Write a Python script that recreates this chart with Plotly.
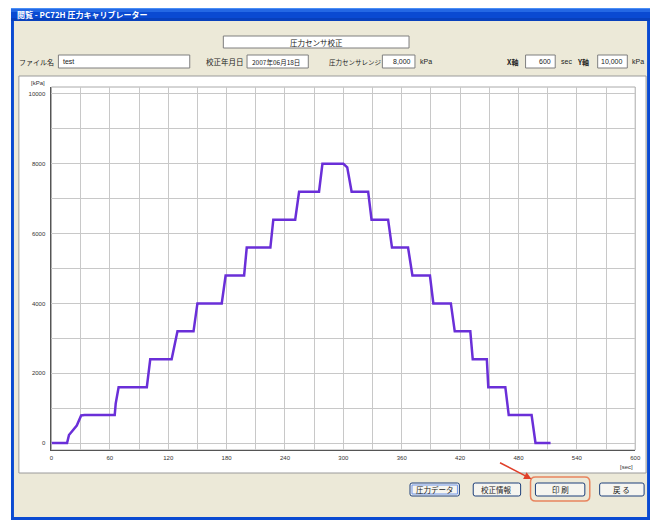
import plotly.graph_objects as go

# page has an 8px body margin, so the figure is 8px smaller and all layout
# pixel positions below are expressed in page coordinates and shifted by OFF
W, H = 650, 512
OFF = 8

# ---- data ----
time_sec = [0, 16, 18, 22, 26, 30.5, 34, 65, 66, 69, 98, 101.5, 123.5, 129.5, 146, 150,
            175, 179, 198, 200.7, 225, 228, 250.5, 254.5, 275, 278.5, 300, 304, 308.5,
            325.5, 329, 346, 350, 366.5, 371, 389, 392.5, 410.5, 414.5, 430.5, 433,
            447.5, 449, 466.5, 470, 493.5, 497.5, 513]
pressure_kpa = [0, 0, 230, 350, 500, 790, 800, 800, 1130, 1600, 1600, 2400, 2400, 3200, 3200, 4000,
                4000, 4800, 4800, 5600, 5600, 6400, 6400, 7200, 7200, 8000, 8000, 7900, 7200,
                7200, 6400, 6400, 5600, 5600, 4800, 4800, 4000, 4000, 3200, 3200, 2400,
                2400, 1600, 1600, 800, 800, 0, 0]
x_ticks = [0, 60, 120, 180, 240, 300, 360, 420, 480, 540, 600]
y_ticks = [0, 2000, 4000, 6000, 8000, 10000]
window_title = "閲覧 - PC72H 圧力キャリブレーター"
chart_title = "圧力センサ校正"
buttons = ["圧力データ", "校正情報", "印 刷", "戻 る"]

JP = "Noto Sans CJK JP"
LS = "Liberation Sans"


def fx(x):
    return (x - OFF) / W


def fy(y):
    return 1 - (y - OFF) / H


shapes = []
ann = []


def rect(x0, y0, x1, y1, fill, line="rgba(0,0,0,0)", lw=1, layer="below"):
    shapes.append(dict(type="rect", xref="paper", yref="paper",
                       x0=fx(x0), x1=fx(x1), y0=fy(y1), y1=fy(y0),
                       fillcolor=fill, line=dict(color=line, width=lw), layer=layer))


def rrect(x0, y0, x1, y1, r, fill, line, lw=1, layer="below"):
    rx, ry = r / W, r / H
    X0, X1, Y0, Y1 = fx(x0), fx(x1), fy(y1), fy(y0)
    p = (f"M {X0+rx},{Y0} L {X1-rx},{Y0} Q {X1},{Y0} {X1},{Y0+ry} L {X1},{Y1-ry} "
         f"Q {X1},{Y1} {X1-rx},{Y1} L {X0+rx},{Y1} Q {X0},{Y1} {X0},{Y1-ry} "
         f"L {X0},{Y0+ry} Q {X0},{Y0} {X0+rx},{Y0} Z")
    shapes.append(dict(type="path", xref="paper", yref="paper", path=p,
                       fillcolor=fill, line=dict(color=line, width=lw), layer=layer))


def text(x, y, t, size=8, color="#222", anchor="left", bold=False, font=JP):
    if bold:
        t = f"<b>{t}</b>"
    ann.append(dict(xref="paper", yref="paper", x=fx(x), y=fy(y), text=t,
                    showarrow=False, xanchor=anchor, yanchor="middle",
                    font=dict(size=size, color=color, family=font)))


# window frame
rect(9, 7, 656, 520, "#0A4AD2")
rect(12, 21, 653, 517, "#ECE9D8")
# title bar gradient strips
rect(9, 7, 656, 9, "#4A8FF5")
rect(9, 9, 656, 12, "#2468E4")
rect(9, 18, 656, 21, "#0840BC")
text(13, 14.5, window_title, size=8, color="white", bold=True)

# header
rect(224, 36, 412, 48, "white", "#7F7F7F")
text(318, 42, chart_title, size=7.5, anchor="center")
text(15, 61.5, "ファイル名", size=7)
rect(57, 55, 190, 68, "white", "#7F7F7F")
text(60, 61.5, "test", size=7, font=LS)
text(204, 61.5, "校正年月日", size=7.5)
rect(248, 55, 310, 68, "white", "#7F7F7F")
text(251, 61.5, "2007年06月18日", size=6.5)
text(329, 61.5, "圧力センサレンジ", size=6.5)
rect(385, 55, 418, 68, "white", "#7F7F7F")
text(416, 61.5, "8,000", size=7, anchor="right", font=LS)
text(421, 61.5, "kPa", size=7, font=LS)
text(509, 61.5, "X軸", size=7, bold=True)
rect(530, 55, 560, 68, "white", "#7F7F7F")
text(558, 61.5, "600", size=7, anchor="right", font=LS)
text(564, 61.5, "sec", size=7, font=LS)
text(580, 61.5, "Y軸", size=7, bold=True)
rect(603, 55, 633, 68, "white", "#7F7F7F")
text(631, 61.5, "10,000", size=7, anchor="right", font=LS)
text(636, 61.5, "kPa", size=7, font=LS)

# chart panel
rect(17, 76, 652, 473, "white", "#9A9A9A")

# axis unit labels
text(36, 83, "[kPa]", size=6, color="#333", anchor="center", font=LS)
text(632, 467, "[sec]", size=6, color="#333", anchor="center", font=LS)

# buttons
bx = [(413, 463), (477, 525), (540, 590), (605, 650)]
for (a, b), lab in zip(bx, buttons):
    rrect(a, 483, b, 496, 2, "#F6F5F0", "#1D3F7A", 1)
    text((a + b) / 2, 489.5, lab, size=7.5, anchor="center")
rect(415, 485, 461, 494, "rgba(0,0,0,0)", "#6F95E8", 1, layer="above")
rrect(535, 477, 595, 501, 5, "rgba(0,0,0,0)", "#E8845E", 1.5, layer="above")

# red arrow
ann.append(dict(xref="paper", yref="paper", axref="pixel", ayref="pixel",
                x=fx(536), y=fy(479), ax=-33, ay=-17, text="",
                showarrow=True, arrowhead=2, arrowsize=1, arrowwidth=1.5,
                arrowcolor="#E0402A"))

fig = go.Figure(go.Scatter(x=time_sec, y=pressure_kpa, mode="lines",
                           line=dict(color="#6A2FD8", width=2.5), hoverinfo="skip"))

fig.update_layout(
    width=W, height=H, margin=dict(l=0, r=0, t=0, b=0),
    paper_bgcolor="white", plot_bgcolor="rgba(0,0,0,0)",
    showlegend=False, shapes=shapes, annotations=ann,
    xaxis=dict(domain=[fx(50), fx(641)], range=[0, 600], tickvals=x_ticks,
               ticktext=[str(v) for v in x_ticks],
               showgrid=True, gridcolor="#C8C8C8", gridwidth=1,
               minor=dict(dtick=30, tick0=0, showgrid=True, gridcolor="#C8C8C8", gridwidth=1),
               showline=True, linecolor="#555", linewidth=1, mirror=False,
               zeroline=False, ticks="", ticklabelstandoff=2,
               tickfont=dict(size=6, color="#333", family=LS),
               fixedrange=True),
    yaxis=dict(domain=[fy(450), fy(87)], range=[-200, 10200], tickvals=y_ticks,
               ticktext=[str(v) for v in y_ticks],
               showgrid=True, gridcolor="#C8C8C8", gridwidth=1,
               minor=dict(dtick=1000, tick0=0, showgrid=True, gridcolor="#C8C8C8", gridwidth=1),
               showline=True, linecolor="#555", linewidth=1, mirror=False,
               zeroline=False, ticks="", ticklabelstandoff=4,
               tickfont=dict(size=6, color="#333", family=LS),
               fixedrange=True),
)
# top and right frame of plot
fig.add_shape(type="rect", xref="paper", yref="paper", x0=fx(50), x1=fx(641),
              y0=fy(450), y1=fy(87), line=dict(color="#AAAAAA", width=1),
              fillcolor="rgba(0,0,0,0)", layer="below")

fig.write_html("out.html")
